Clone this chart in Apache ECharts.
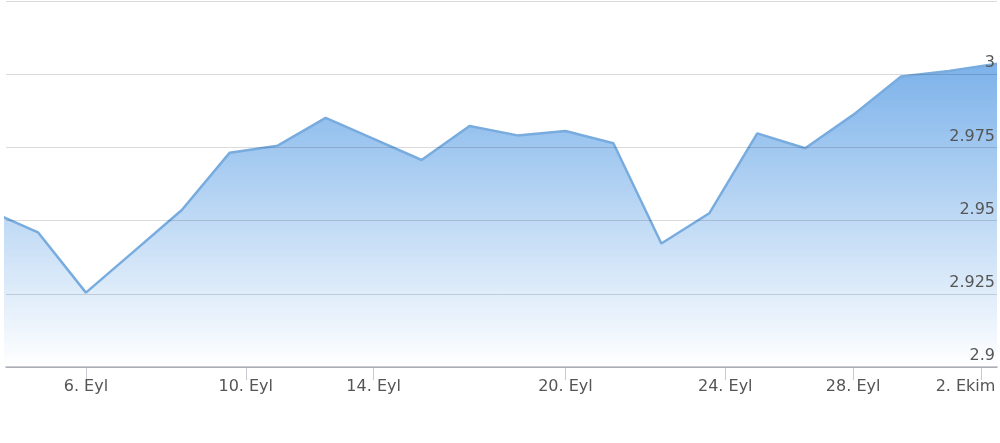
<!DOCTYPE html>
<html>
<head>
<meta charset="utf-8">
<script src="https://cdn.jsdelivr.net/npm/echarts@6/dist/echarts.min.js"></script>
<style>
  html, body { margin: 0; padding: 0; background: #fff; }
  #chart { width: 1000px; height: 443px; }
</style>
</head>
<body>
<div id="chart"></div>
<script>
// trading days (weekends skipped, ordinal axis)
const tradingDays = [
  '2016-09-02', '2016-09-05', '2016-09-06', '2016-09-07', '2016-09-08', '2016-09-09',
  '2016-09-12', '2016-09-13', '2016-09-14', '2016-09-15', '2016-09-16',
  '2016-09-19', '2016-09-20', '2016-09-21', '2016-09-22', '2016-09-23',
  '2016-09-26', '2016-09-27', '2016-09-28', '2016-09-29', '2016-09-30',
  '2016-10-03'
];
const rates = [
  2.9532, 2.9460, 2.9254, 2.9395, 2.9536, 2.9732,
  2.9756, 2.9851, 2.9779, 2.9707, 2.9823,
  2.9791, 2.9806, 2.9764, 2.9422, 2.9525,
  2.9798, 2.9747, 2.9861, 2.9992, 3.0011,
  3.0036
];
const tickDates = ['2016-09-06', '2016-09-10', '2016-09-14', '2016-09-20', '2016-09-24', '2016-09-28', '2016-10-02'];
const tickLabels = ['6. Eyl', '10. Eyl', '14. Eyl', '20. Eyl', '24. Eyl', '28. Eyl', '2. Ekim'];
const rangeStart = '2016-09-03';
const rangeEnd = '2016-10-03';

// date -> ordinal position (weekend dates fall between Friday and Monday)
function ordinal(d) {
  const t = Date.parse(d);
  const times = tradingDays.map(s => Date.parse(s));
  for (let i = 0; i < times.length - 1; i++) {
    if (t >= times[i] && t <= times[i + 1]) {
      return i + (t - times[i]) / (times[i + 1] - times[i]);
    }
  }
  return times.length - 1;
}

const ticks = tickDates.map(ordinal);
const labelOf = {};
ticks.forEach((v, i) => { labelOf[v.toFixed(4)] = i; });

const font = "'DejaVu Sans', Verdana, sans-serif";

const chart = echarts.init(document.getElementById('chart'));
chart.setOption({
  animation: false,
  grid: { left: 6, right: 3, top: 1, bottom: 76, outerBoundsMode: 'none', containLabel: false },
  xAxis: {
    type: 'value',
    min: ordinal(rangeStart),
    max: ordinal(rangeEnd),
    splitLine: { show: false },
    axisLine: { lineStyle: { color: '#c8ccd2', width: 2 } },
    axisTick: {
      customValues: ticks,
      length: 13,
      lineStyle: { color: '#c8ccd2', width: 1 }
    },
    axisLabel: {
      customValues: ticks,
      margin: 12,
      color: '#555',
      fontSize: 16,
      fontFamily: font,
      formatter: v => {
        const i = labelOf[v.toFixed(4)];
        if (i === undefined) return '';
        // last label is pushed back inside the chart
        return i === tickLabels.length - 1 ? '{end|' + tickLabels[i] + '}' : tickLabels[i];
      },
      rich: {
        end: { color: '#555', fontSize: 16, fontFamily: font, padding: [0, 31, 0, 0] }
      }
    }
  },
  yAxis: {
    type: 'value',
    position: 'right',
    z: 10,
    min: 2.9,
    max: 3.025,
    interval: 0.025,
    axisLine: { show: false },
    axisTick: { show: false },
    splitLine: { lineStyle: { color: 'rgba(0,0,0,0.14)', width: 1 } },
    axisLabel: {
      inside: true,
      margin: 2,
      color: '#555',
      fontSize: 16,
      fontFamily: font,
      verticalAlign: 'bottom',
      padding: [0, 0, 3, 0],
      showMaxLabel: false,
      formatter: v => String(+v.toFixed(3))
    }
  },
  series: [{
    type: 'line',
    z: 2,
    data: rates.map((r, i) => [i, r]),
    symbol: 'none',
    clip: true,
    lineStyle: { color: '#78acdf', width: 2.5 },
    areaStyle: {
      opacity: 1,
      color: new echarts.graphic.LinearGradient(0, 0, 0, 1, [
        { offset: 0, color: 'rgba(124,178,234,1)' },
        { offset: 1, color: 'rgba(124,178,234,0)' }
      ])
    }
  }]
});
</script>
</body>
</html>
